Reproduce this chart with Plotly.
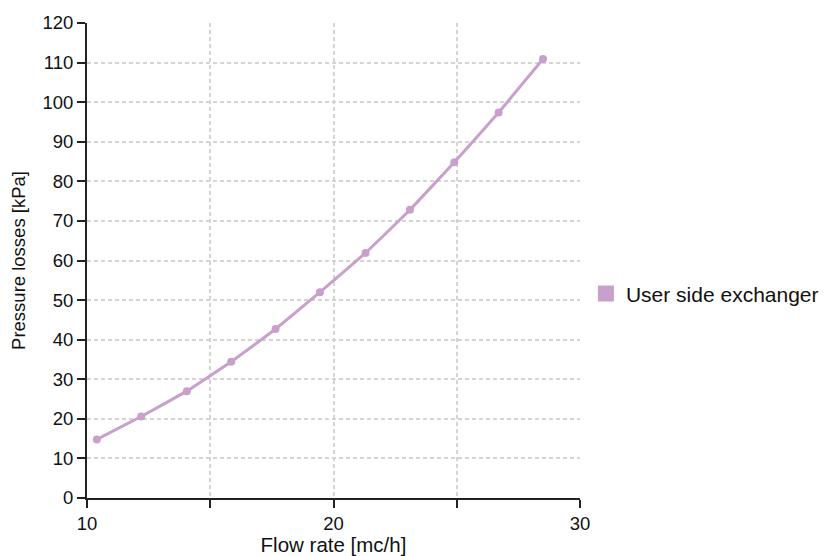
import plotly.graph_objects as go

flow_rate = [10.4, 12.2, 14.05, 15.85, 17.65, 19.45, 21.3, 23.1, 24.9, 26.7, 28.5]
pressure_loss = [14.8, 20.6, 27.0, 34.4, 42.7, 52.0, 61.9, 72.8, 84.8, 97.4, 110.9]
series_name = "User side exchanger"
x_tick_vals = [10, 15, 20, 25, 30]
x_tick_text = ["10", "", "20", "", "30"]
y_tick_vals = list(range(0, 121, 10))

color = "#c9a0cb"
font_family = "Liberation Sans, Arial, sans-serif"

fig = go.Figure()
fig.add_trace(go.Scatter(
    x=flow_rate, y=pressure_loss, mode="lines+markers",
    line=dict(color=color, width=3, shape="spline", smoothing=0.2),
    marker=dict(color=color, size=8),
    showlegend=False, name=series_name,
))
fig.add_trace(go.Scatter(
    x=[None], y=[None], mode="markers",
    marker=dict(color=color, size=17, symbol="square"),
    name=series_name, showlegend=True,
))

fig.update_layout(
    width=824, height=548,
    margin=dict(l=79, r=252, t=15, b=58, autoexpand=False),
    paper_bgcolor="white", plot_bgcolor="white",
    font=dict(family=font_family, color="#111111", size=18.5),
    legend=dict(x=1.012, y=0.43, xanchor="left", yanchor="middle",
                font=dict(size=21), itemsizing="trace",
                bgcolor="rgba(0,0,0,0)"),
    xaxis=dict(
        range=[10, 30], tickmode="array", tickvals=x_tick_vals, ticktext=x_tick_text,
        showline=True, linecolor="#222222", linewidth=2,
        ticks="outside", ticklen=8, tickwidth=2, tickcolor="#222222",
        showgrid=True, gridcolor="#d4d4d4", gridwidth=1.5, griddash="4px,3px",
        zeroline=False, tickfont=dict(size=18.5), automargin=False,
        title=dict(text="Flow rate [mc/h]", font=dict(size=20.5), standoff=11),
    ),
    yaxis=dict(
        range=[0, 120], tickmode="array", tickvals=y_tick_vals,
        showline=True, linecolor="#222222", linewidth=2,
        ticks="outside", ticklen=8, tickwidth=2, tickcolor="#222222",
        showgrid=True, gridcolor="#d4d4d4", gridwidth=1.5, griddash="4px,3px",
        zeroline=False, tickfont=dict(size=18.5), automargin=False,
        title=dict(text="Pressure losses [kPa]", font=dict(size=18.5), standoff=19),
    ),
)

fig.write_html("out.html")
